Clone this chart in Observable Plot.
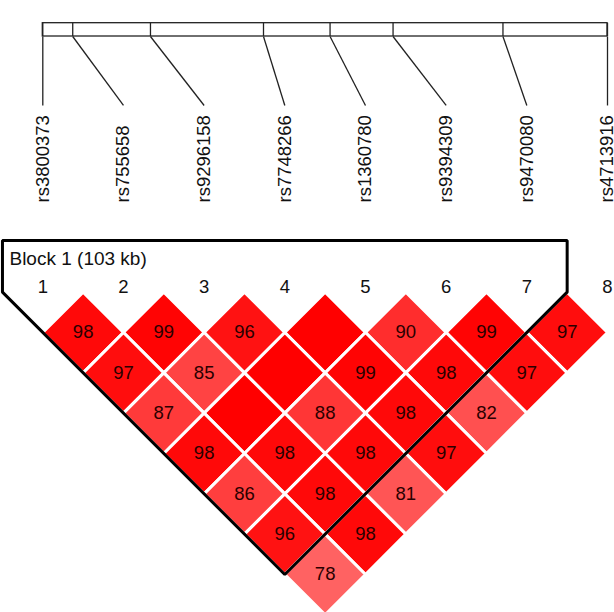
<!DOCTYPE html>
<html>
<head>
<meta charset="utf-8">
<script src="https://cdn.jsdelivr.net/npm/d3@7"></script>
<script src="https://cdn.jsdelivr.net/npm/@observablehq/plot@0.6"></script>
<style>
  html, body { margin: 0; padding: 0; background: #fff; }
  #chart svg { display: block; font-family: "Liberation Sans", Arial, sans-serif; }
</style>
</head>
<body>
<div id="chart"></div>
<script>
// ---- data ----
const snpNames = ["rs3800373", "rs755658", "rs9296158", "rs7748266", "rs1360780", "rs9394309", "rs9470080", "rs4713916"];
// approximate relative genomic positions (kb) read from the top map
const snpKb = [0, 6.7, 24.1, 49.4, 64.3, 78.4, 103, 126.4];
// D' (x100) by distance between markers; row k holds pairs (i, i+k)
const dPrimeDist1 = [98, 99, 96, 100, 90, 99, 97];
const dPrimeDist2 = [97, 85, 100, 99, 98, 97];
const dPrimeDist3 = [87, 100, 88, 98, 82];
const dPrimeDist4 = [98, 98, 98, 97];
const dPrimeDist5 = [86, 98, 81];
const dPrimeDist6 = [96, 98];
const dPrimeDist7 = [78];
const blockStart = 1, blockEnd = 7;
const blockLabel = "Block 1 (103 kb)";

// ---- derived tables ----
const n = snpNames.length;
const totalKb = snpKb[n - 1];
const snps = snpNames.map((name, k) => ({
  name, idx: k + 1, num: String(k + 1),
  mapX: 1 + (n - 1) * snpKb[k] / totalKb
}));
const rows = [dPrimeDist1, dPrimeDist2, dPrimeDist3, dPrimeDist4, dPrimeDist5, dPrimeDist6, dPrimeDist7];
const cells = [];
rows.forEach((row, r) => row.forEach((v, c) => {
  const i = c + 1, j = c + 1 + (r + 1);
  const d = v / 100;
  const g = Math.round((255 - 32) * 2 * (1 - d));
  cells.push({id: `${i}-${j}`, i, j, v, cx: (i + j) / 2, cy: (j - i) / 2, color: `rgb(255,${g},${g})`});
}));
const diamondPts = cells.flatMap(c => [
  {id: c.id, color: c.color, x: c.cx, y: c.cy - 0.5},
  {id: c.id, color: c.color, x: c.cx + 0.5, y: c.cy},
  {id: c.id, color: c.color, x: c.cx, y: c.cy + 0.5},
  {id: c.id, color: c.color, x: c.cx - 0.5, y: c.cy}
]);

// layout levels (in marker-spacing units; y=0 is the top of the triangle)
const yBarTop = -3.334, yBarBottom = -3.169, yConnEnd = -2.314, yLabelBase = -1.111;
const yBoxTop = -0.641, yBlockText = -0.418, yNumbers = -0.058;
const bl = blockStart - 0.5, br = blockEnd + 0.5;
const outline = [
  {x: bl, y: yBoxTop}, {x: br, y: yBoxTop}, {x: br, y: 0},
  {x: (blockStart + blockEnd) / 2, y: (blockEnd - blockStart) / 2 + 0.5},
  {x: bl, y: 0}
];

const W = 614, H = 612;
const unit = (607 - 42.3) / (n - 1);
const yTop = -291.65 / unit, yBottom = (H - 291.65) / unit;

const plot = Plot.plot({
  width: W, height: H,
  margin: 0,
  x: {domain: [1, n], range: [42.3, 607], axis: null},
  y: {domain: [yTop, yBottom], range: [0, H], axis: null},
  color: {type: "identity"},
  style: {fontFamily: "Liberation Sans, Arial, sans-serif", background: "white"},
  marks: [
    // physical map bar
    Plot.rect([{x1: 1, x2: n, y1: yBarTop, y2: yBarBottom}], {x1: "x1", x2: "x2", y1: "y1", y2: "y2", fill: "none", stroke: "#222", strokeWidth: 1.3}),
    Plot.ruleX(snps, {x: "mapX", y1: yBarTop, y2: yBarBottom, stroke: "#222", strokeWidth: 1.3}),
    Plot.link(snps, {x1: "mapX", y1: yBarBottom, x2: "idx", y2: yConnEnd, stroke: "#222", strokeWidth: 1.3}),
    // marker names
    Plot.text(snps, {x: "idx", y: yLabelBase, text: "name", rotate: -90, textAnchor: "start", lineAnchor: "middle", fontSize: 18.5, fill: "#111"}),
    // marker numbers
    Plot.text(snps, {x: "idx", y: yNumbers, text: "num", fontSize: 18.5, fill: "#111"}),
    Plot.text([blockLabel], {x: bl, dx: 7, y: yBlockText, text: d => d, textAnchor: "start", fontSize: 19, fill: "#111"}),
    // LD diamonds
    Plot.line(diamondPts, {x: "x", y: "y", z: "id", fill: "color", stroke: "white", strokeWidth: 3, curve: "linear-closed"}),
    Plot.text(cells.filter(c => c.v < 100), {x: "cx", y: "cy", text: d => String(d.v), fontSize: 18.5, fill: "#2a0000"}),
    // block outline
    Plot.line(outline, {x: "x", y: "y", stroke: "black", strokeWidth: 3, curve: "linear-closed", strokeLinejoin: "miter"})
  ]
});
document.getElementById("chart").appendChild(plot);
</script>
</body>
</html>
